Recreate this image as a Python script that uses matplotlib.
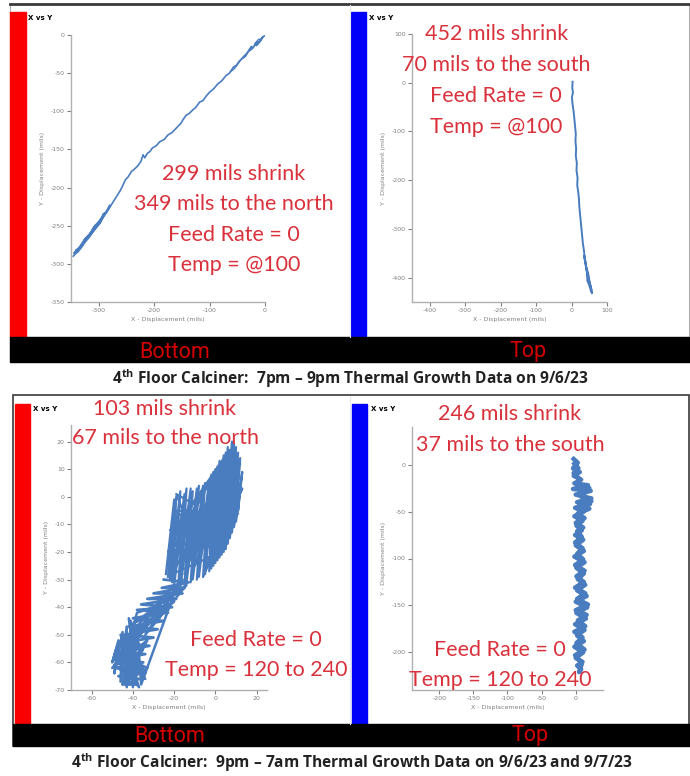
import matplotlib
matplotlib.use("Agg")
import matplotlib.pyplot as plt
from matplotlib.patches import Rectangle

plt.rcParams["axes.unicode_minus"] = False
plt.rcParams["mathtext.fontset"] = "custom"
plt.rcParams["mathtext.rm"] = "Open Sans"
plt.rcParams["mathtext.bf"] = "Open Sans:bold"

# ---- datos ----
# arriba izquierda: Bottom 7pm-9pm
tl_x = [0, -5, -12, -18, -14, -22, -28, -24, -33, -40, -36, -46, -52, -57, -64, -70, -78, -85, -92, -100,
        -106, -112, -118, -125, -130, -137, -142, -147, -152, -160, -168, -175, -182, -190, -196, -203, -208,
        -212, -217, -220, -224, -230, -236, -241, -247, -252, -257, -262, -268, -275, -282, -290, -296, -302,
        -310, -318, -326, -334, -340, -346]
tl_y = [0, -4, -10, -13, -9, -17, -19, -15, -24, -30, -27, -34, -40, -42, -50, -53, -60, -64, -70, -75,
        -80, -86, -88, -95, -98, -103, -105, -110, -116, -122, -128, -131, -137, -140, -145, -148, -153,
        -155, -161, -157, -166, -172, -176, -179, -186, -190, -198, -205, -212, -220, -228, -236, -244, -250,
        -258, -266, -272, -280, -285, -290]
tl2_x = [-340, -332, -325, -316, -306, -298, -290, -300, -312, -322, -336, -344, -338, -328, -318, -308, -296, -286, -280]
tl2_y = [-282, -278, -268, -262, -250, -246, -234, -248, -258, -266, -280, -286, -284, -274, -264, -252, -242, -232, -224]
tl3_x = [-62, -55, -48, -42, -35, -30, -23, -16, -9, -4, -8, -15, -19, -12, -6]
tl3_y = [-48, -44, -37, -31, -28, -22, -18, -11, -8, -2, -8, -14, -12, -6, -5]

# arriba derecha: Top 7pm-9pm
tr_x = [3, 2, 4, 1, 3, 6, 8, 10, 12, 11, 13, 12, 15, 14, 17, 16, 19, 21, 22, 24, 26, 28, 30, 32, 35, 37,
        40, 43, 46, 44, 48, 52, 55, 58, 54, 50, 47, 42, 45, 50, 56, 52, 47, 38, 36, 40]
tr_y = [2, -10, -20, -30, -45, -60, -75, -90, -105, -120, -135, -150, -165, -180, -195, -210, -225, -240,
        -255, -270, -285, -300, -315, -330, -345, -360, -372, -385, -395, -405, -412, -420, -428, -432, -418,
        -405, -392, -380, -398, -410, -425, -415, -400, -368, -355, -370]

# abajo izquierda: Bottom 9pm-7am, primera pasada (barrido vertical de la parte alta)
bl_x = [-24, -20, -22, -17, -20, -14, -17, -11, -14, -8, -11, -5, -8, -2, -5, 0, -2, 2, 0, 4, 2, 6, 4, 8,
        6, 10, 8, 12, 10, 13, 11, 12,
        9, 11, 7, 9, 5, 7, 3, 5, 1, 3, -1, 1, -3, -1, -6, -3, -9, -6, -12, -9, -15, -12, -18, -15, -21,
        -19, -23]
bl_y = [-28, -1, -30, 2, -32, 3, -33, 2, -31, 4, -30, 5, -29, 8, -28, 10, -26, 13, -24, 15, -22, 18, -20,
        20, -17, 18, -13, 14, -9, 9, -5, 4,
        -11, 16, -15, 19, -19, 17, -21, 16, -23, 12, -25, 11, -27, 9, -29, 6, -30, 4, -31, 3, -32, 3, -32,
        1, -31, 0, -29]
# segunda pasada: trazos en diagonal por la parte alta
bl2_x = [-22, -5, -20, 0, -18, 5, -15, 9, -10, 12, -6, 13, -3, 11, -20, -2, -22, 3, -21, -8, -23, -12,
         -19, -7, -14, 6, -4, 10, 0, 8, -2, -16]
bl2_y = [-25, 3, -18, 9, -10, 15, -28, 19, -25, 12, -29, 3, -25, -6, -5, -14, -12, -20, -28, -10, -20, -2,
         1, -22, -6, -8, -18, 5, -10, 16, 0, -15]
# tercera pasada: cuello y grupo inferior
bl3_x = [-16, -34, -14, -40, -20, -44, -25, -47, -30, -50, -33, -45, -36, -48, -34, -44, -38, -42, -36,
         -49, -40, -46, -35, -44, -38, -30, -41, -22, -28, -18, -36, -38, -40, -41, -43, -43, -46, -45,
         -49, -47, -50, -48, -34, -46, -37, -49, -39, -44, -35, -42, -38, -47, -33, -45, -41]
bl3_y = [-30, -50, -32, -46, -38, -52, -36, -58, -44, -62, -52, -68, -60, -56, -64, -50, -68, -44, -56,
         -61, -66, -62, -48, -58, -42, -40, -55, -34, -45, -31, -68, -47, -69, -45, -69, -47, -67, -49,
         -64, -52, -60, -55, -66, -50, -69, -58, -62, -66, -55, -64, -51, -57, -62, -68, -48]
# cuarta pasada: relleno del cuello
bl4_x = [-25, -13, -26, -15, -30, -16, -33, -19, -36, -21, -38, -23, -40, -25, -42, -28, -44, -30, -46,
         -32, -47, -34, -49, -35, -49, -36, -47, -37, -44, -38]
bl4_y = [-30, -31, -33, -33, -35, -35, -37, -37, -39, -40, -41, -42, -44, -45, -47, -48, -50, -51, -53,
         -54, -56, -57, -59, -60, -62, -63, -65, -66, -68, -68]

# abajo derecha: Top 9pm-7am
br_x = [-3, 3, -4, 6, -3, 8, -2, 18, -4, 22, 0, 23, 2, 21, -1, 12, -2, 10, 1, 9, -1, 11, 0, 12, -2, 13,
        1, 12, 3, 14, 2, 16, 0, 17, 1, 15, -1, 13, 2, 12, -2, 11, 0, 10, 2, 8, 5,
        9, -1, 13, 1, 10, -2, 14, 3, 16, 0, 18, 2, 14, -1, 12, 1, 13, -1, 11, 2, 10, -1, 9, 2, 11, 0, 13,
        3, 20, 5, 23, 8, 20, 2, 5, -3, 4, -2]
br_y = [6, 2, -4, -8, -12, -16, -20, -22, -26, -28, -32, -36, -40, -42, -46, -50, -55, -60, -65, -70, -75,
        -80, -86, -92, -98, -104, -110, -116, -122, -128, -134, -140, -146, -152, -158, -164, -170, -176,
        -182, -188, -194, -200, -206, -210, -214, -218, -221,
        -212, -203, -197, -190, -184, -178, -172, -166, -160, -155, -149, -143, -137, -131, -125, -119,
        -113, -107, -101, -95, -89, -83, -77, -71, -67, -62, -57, -52, -47, -44, -39, -34, -25, -23, -15,
        -9, -4, 1]

notas_tl = ["299 mils shrink", "349 mils to the north", "Feed Rate = 0", "Temp = @100"]
notas_tr = ["452 mils shrink", "70 mils to the south", "Feed Rate = 0", "Temp = @100"]
notas_bl = ["103 mils shrink", "67 mils to the north", "Feed Rate = 0", "Temp = 120 to 240"]
notas_br = ["246 mils shrink", "37 mils to the south", "Feed Rate = 0", "Temp = 120 to 240"]

titulo_1 = r"4$^{\mathbf{th}}$ Floor Calciner:  7pm – 9pm Thermal Growth Data on 9/6/23"
titulo_2 = r"4$^{\mathbf{th}}$ Floor Calciner:  9pm – 7am Thermal Growth Data on 9/6/23 and 9/7/23"

W, H = 690, 776
AZUL = "#4a7dbf"
ROJO_TXT = "#d9323c"

fig = plt.figure(figsize=(W / 100, H / 100), dpi=100)


def ejes_px(x0, y0, x1, y1):
    return fig.add_axes([x0 / W, 1 - y1 / H, (x1 - x0) / W, (y1 - y0) / H])


def estilo(ax, xlim, ylim, xt, yt):
    ax.set_xlim(xlim)
    ax.set_ylim(ylim)
    ax.set_xticks(xt)
    ax.set_yticks(yt)
    for s in ["top", "right"]:
        ax.spines[s].set_visible(False)
    for s in ["left", "bottom"]:
        ax.spines[s].set_color("#b0b0b0")
        ax.spines[s].set_linewidth(1.0)
    ax.tick_params(labelsize=4.5, colors="#808080", length=3, width=0.8, pad=1.5)
    ax.set_xlabel("X - Displacement (mils)", fontsize=4.5, color="#808080", labelpad=3)
    ax.set_ylabel("Y - Displacement (mils)", fontsize=4.5, color="#808080", labelpad=4)


ax1 = ejes_px(71, 35, 265, 302)
ax1.plot(tl_x, tl_y, color=AZUL, lw=1.2)
ax1.plot(tl2_x, tl2_y, color=AZUL, lw=1.8)
ax1.plot(tl3_x, tl3_y, color=AZUL, lw=1.0)
estilo(ax1, (-350, 0), (-350, 0), [-300, -200, -100, 0], range(0, -351, -50))

ax2 = ejes_px(412, 34, 607, 302)
ax2.plot(tr_x, tr_y, color=AZUL, lw=1.4)
estilo(ax2, (-450, 100), (-450, 100), range(-400, 101, 100), range(100, -401, -100))

ax3 = ejes_px(71, 425, 267, 690)
ax3.plot(bl_x, bl_y, color=AZUL, lw=1.6)
ax3.plot(bl2_x, bl2_y, color=AZUL, lw=1.6)
ax3.plot(bl3_x, bl3_y, color=AZUL, lw=1.8)
ax3.plot(bl4_x, bl4_y, color=AZUL, lw=2.0)
estilo(ax3, (-70, 25), (-70, 26), [-60, -40, -20, 0, 20], range(20, -71, -10))

ax4 = ejes_px(412, 427, 603, 690)
ax4.plot(br_x, br_y, color=AZUL, lw=3.2)
estilo(ax4, (-240, 40), (-240, 40), [-200, -150, -100, -50, 0], range(0, -201, -50))

# capa de decoracion encima de todo
ov = fig.add_axes([0, 0, 1, 1], zorder=10)
ov.set_xlim(0, W)
ov.set_ylim(H, 0)
ov.axis("off")
ov.patch.set_alpha(0)

# marcos
ov.add_patch(Rectangle((10, 4), 679, 358, fill=False, ec="#b0b0b0", lw=0.8))
ov.plot([10, 690], [4, 4], color="#3a3a3a", lw=2)
ov.add_patch(Rectangle((13, 395), 676, 351, fill=False, ec="#3a3a3a", lw=1.2))
ov.plot([350, 350], [5, 337], color="#e8e8e8", lw=0.8)
ov.plot([350, 350], [396, 724], color="#e8e8e8", lw=0.8)

# barras de color
ov.add_patch(Rectangle((10, 12), 16, 325, color="#fa0000"))
ov.add_patch(Rectangle((351, 12), 15, 325, color="#0000fa"))
ov.add_patch(Rectangle((15, 404), 15, 320, color="#fa0000"))
ov.add_patch(Rectangle((352, 404), 15, 320, color="#0000fa"))

# barras negras
ov.add_patch(Rectangle((10, 337), 680, 25, color="black"))
ov.add_patch(Rectangle((13, 724), 677, 22, color="black"))
for x, y, t in [(175, 352, "Bottom"), (528, 351, "Top"), (170, 736, "Bottom"), (530, 736, "Top")]:
    ov.text(x, y, t, color="#d40000", fontsize=15.5, family="Roboto", ha="center", va="center")

# "X vs Y"
for x, y in [(28, 18), (369, 18), (33, 409), (371, 409)]:
    ov.text(x, y, "X vs Y", fontsize=5, fontweight="bold", family="DejaVu Sans", ha="left", va="center")


# notas en rojo
def notas(lineas, pos):
    for (x, y), t in zip(pos, lineas):
        ov.text(x, y, t, color=ROJO_TXT, fontsize=15.5, family="Lato", ha="center", va="center")


notas(notas_tl, [(234, 174), (234, 204), (234, 235), (234, 265)])
notas(notas_tr, [(497, 34), (496, 65), (496, 96), (496, 127)])
notas(notas_bl, [(165, 409), (165, 438), (256, 640), (256, 670)])
notas(notas_br, [(510, 414), (510, 445), (500, 650), (500, 680)])

# titulos
ov.text(350, 379, titulo_1, fontsize=11.2, fontweight="bold", family="Open Sans", color="#222222",
        ha="center", va="center")
ov.text(352, 763, titulo_2, fontsize=11.2, fontweight="bold", family="Open Sans", color="#222222",
        ha="center", va="center")

fig.savefig("out.png", dpi=100, facecolor="white")
